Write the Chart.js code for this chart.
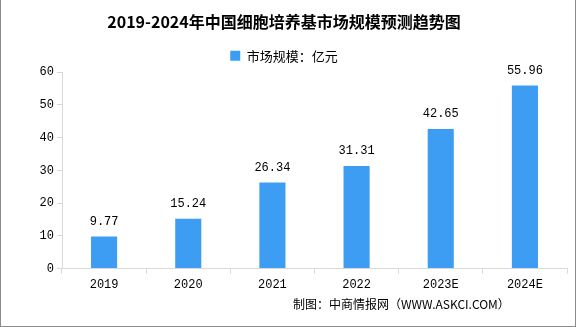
<!DOCTYPE html>
<html>
<head>
<meta charset="utf-8">
<script src="https://cdn.jsdelivr.net/npm/chart.js@4/dist/chart.umd.min.js"></script>
<style>
  html, body { margin: 0; padding: 0; background: #fff; }
  #wrap { position: relative; width: 576px; height: 327px; box-sizing: border-box;
          border-left: 1px solid #8c8c8c; border-right: 1px solid #8c8c8c; border-bottom: 1px solid #8c8c8c; }
  canvas { display: block; }
</style>
</head>
<body>
<div id="wrap"><canvas id="chart" width="574" height="326"></canvas></div>
<script>
// 细胞培养基市场规模（亿元）
const years = ["2019", "2020", "2021", "2022", "2023E", "2024E"];
const marketSize = [9.77, 15.24, 26.34, 31.31, 42.65, 55.96];
const yTicks = [0, 10, 20, 30, 40, 50, 60];

const NUM_FONT = "'Liberation Mono', 'DejaVu Sans Mono', monospace";
const CJK_FONT = "'Noto Sans CJK SC', 'Noto Sans', sans-serif";

// 柱顶数值
const valueLabels = {
  id: "valueLabels",
  afterDatasetsDraw(chart) {
    const ctx = chart.ctx;
    const meta = chart.getDatasetMeta(0);
    ctx.save();
    ctx.font = "12px " + NUM_FONT;
    ctx.fillStyle = "#000";
    ctx.textAlign = "center";
    ctx.textBaseline = "bottom";
    meta.data.forEach((bar, i) => {
      ctx.fillText(marketSize[i].toFixed(2), bar.x, bar.y - 9);
    });
    ctx.restore();
  }
};

// 底部来源
const sourceNote = {
  id: "sourceNote",
  afterDraw(chart) {
    const ctx = chart.ctx;
    ctx.save();
    ctx.font = "12px " + CJK_FONT;
    ctx.fillStyle = "#000";
    ctx.textAlign = "left";
    ctx.textBaseline = "middle";
    ctx.fillText("制图：中商情报网（WWW.ASKCI.COM）", 292, 304);
    ctx.restore();
  }
};

new Chart(document.getElementById("chart"), {
  type: "bar",
  data: {
    labels: years,
    datasets: [{
      label: "市场规模：亿元",
      data: marketSize,
      backgroundColor: "#3d9df2",
      barPercentage: 0.31,
      categoryPercentage: 1
    }]
  },
  options: {
    responsive: false,
    animation: false,
    layout: { padding: { left: 0, right: 8, top: 4, bottom: 30 } },
    plugins: {
      title: {
        display: true,
        text: "2019-2024年中国细胞培养基市场规模预测趋势图",
        color: "#000",
        font: { family: CJK_FONT, size: 16, weight: "bold" },
        padding: { top: 8, bottom: 7 }
      },
      legend: {
        position: "top",
        labels: {
          boxWidth: 10, boxHeight: 10, color: "#000",
          font: { family: CJK_FONT, size: 13 }, padding: 11
        }
      },
      tooltip: { enabled: false }
    },
    scales: {
      x: {
        grid: { display: true, drawOnChartArea: false, offset: true, color: "#d9d9d9", tickLength: 5 },
        border: { color: "#d9d9d9" },
        ticks: { color: "#000", font: { family: NUM_FONT, size: 12 }, padding: 4 }
      },
      y: {
        min: 0, max: 60,
        afterBuildTicks: s => { s.ticks = yTicks.map(v => ({ value: v })); },
        afterFit: s => { s.width = 61; },
        grid: { display: true, drawOnChartArea: false, color: "#d9d9d9", tickLength: 5 },
        border: { color: "#d9d9d9" },
        ticks: { color: "#000", font: { family: NUM_FONT, size: 12 }, padding: 3 }
      }
    }
  },
  plugins: [valueLabels, sourceNote]
});
</script>
</body>
</html>
